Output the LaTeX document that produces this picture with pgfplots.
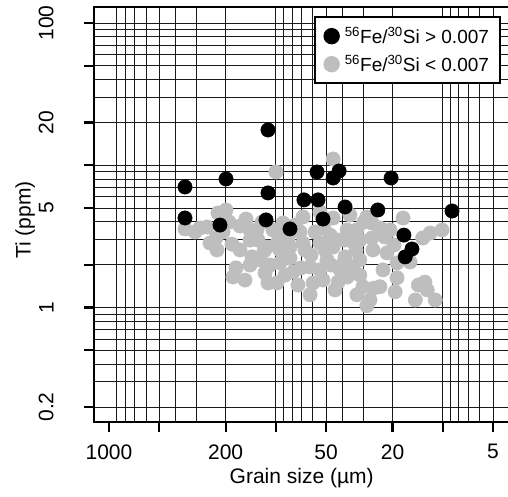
\documentclass[border=0pt]{standalone}
\usepackage{fontspec}
\setmainfont{Liberation Sans}
\usepackage{pgfplots}
\usepackage{pgfplotstable}
\pgfplotsset{compat=1.18}
\definecolor{ptgray}{HTML}{BEBEBE}
\pgfplotstableread{
x y
350.5 3.57
258.7 3.68
248.3 2.84
228.5 3.08
222.3 4.62
199.0 4.85
191.0 3.99
183.3 2.79
164.1 3.74
151.1 4.19
142.9 2.98
225.4 2.54
173.4 1.90
180.7 1.64
142.9 1.99
129.8 3.51
139.0 2.27
124.5 2.16
113.0 2.66
111.5 1.49
99.9 8.97
45.4 11.07
98.5 2.84
82.3 2.66
68.8 2.84
54.4 2.84
45.4 2.66
38.5 2.27
34.5 2.89
32.7 3.51
28.5 4.33
49.4 2.16
41.2 1.84
62.4 1.93
78.9 1.78
94.5 2.06
98.5 1.49
52.2 1.56
37.4 1.64
30.1 1.40
32.7 1.23
27.3 1.13
68.8 4.33
45.4 4.26
37.4 3.51
90.7 3.93
76.8 3.80
51.5 3.62
29.7 3.99
104.1 3.51
71.7 3.40
58.3 3.40
47.3 3.23
38.5 2.98
82.3 2.23
61.6 2.34
46.7 1.99
39.0 2.09
28.5 1.03
25.9 1.37
70.7 1.90
117.8 2.50
17.3 4.26
11.9 3.34
10.1 3.51
13.2 3.08
22.2 3.13
26.6 3.93
26.2 2.54
21.6 2.42
14.0 1.44
22.8 1.84
18.8 1.62
23.8 1.40
14.6 1.13
11.1 1.13
18.8 2.06
12.4 1.33
19.6 2.75
164.1 2.54
128.0 2.98
88.2 3.23
54.4 4.69
36.0 4.47
23.8 3.62
31.4 2.16
33.1 2.54
19.3 1.29
108.5 1.99
59.9 1.49
42.4 1.51
121.1 3.99
84.6 2.98
66.9 2.54
50.8 2.54
42.4 2.98
31.4 2.98
26.6 3.08
35.0 1.90
54.4 1.84
73.7 1.44
88.2 1.69
116.2 1.75
153.2 1.56
207.4 3.40
284.9 3.62
20.7 3.51
15.7 2.09
12.8 1.51
31.4 1.69
44.2 1.33
62.4 1.23
94.5 2.54
142.9 3.51
305.3 3.40
}\graytable
\pgfplotstableread{
x y
350.5 7.04
350.5 4.26
216.2 3.80
199.0 8.01
111.5 17.7
111.5 6.39
114.6 4.13
82.3 3.57
67.9 5.71
56.7 8.97
55.9 5.71
52.2 4.19
45.4 8.14
41.8 9.12
38.5 5.09
24.5 4.85
20.4 8.14
8.80 4.77
17.1 3.23
15.3 2.58
16.8 2.27
}\blacktable
\begin{document}
\begin{tikzpicture}[x=1pt,y=1pt]
\begin{axis}[
  at={(94pt,74pt)}, anchor=south west,
  scale only axis, width=417pt, height=415pt,
  xmode=log, ymode=log, x dir=reverse,
  xmin=3.902, xmax=1230, ymin=0.1569, ymax=129.5,
  axis line style={line width=2.5pt, black},
  xtick={5,10,20,50,100,200,500,1000},
  xticklabels={5,,20,50,,200,,1000},
  ytick={0.2,0.5,1,2,5,10,20,50,100},
  yticklabels={0.2,,1,,5,,20,,100},
  minor xtick={2,3,4,5,6,7,8,9,10,20,30,40,50,60,70,80,90,100,200,300,400,500,600,700,800,900},
  minor ytick={0.2,0.3,0.4,0.5,0.6,0.7,0.8,0.9,1,2,3,4,5,6,7,8,9,10,20,30,40,50,60,70,80,90,100},
  xminorgrids=true, yminorgrids=true, xmajorgrids=false, ymajorgrids=false,
  minor grid style={black!90, line width=0.9pt},
  tick align=outside, xtick pos=left, ytick pos=left,
  major tick length=10pt, minor tick length=0pt,
  major tick style={line width=2.2pt, black},
  tick label style={font=\fontsize{21}{25}\selectfont},
  xticklabel style={yshift=-9pt},
  yticklabel style={xshift=-27pt, rotate=90, anchor=south},
  xlabel={Grain size (µm)}, ylabel={Ti (ppm)},
  label style={font=\fontsize{21}{25}\selectfont},
  xlabel style={at={(axis description cs:0.498,-0.136)}, anchor=center},
  ylabel style={at={(axis description cs:-0.165,0.487)}, anchor=center},
  legend style={at={(0.976,0.978)}, anchor=north east, draw=black, line width=2pt,
    font=\fontsize{19}{22}\selectfont, fill=white,
    inner xsep=9pt, inner ysep=8.5pt, row sep=7pt,
    nodes={inner sep=2pt},
    /tikz/every odd column/.append style={column sep=4pt}},
  legend cell align=left,
  reverse legend,
  legend image code/.code={\draw[mark repeat=2,mark phase=2,#1] plot coordinates {(0pt,0pt) (7pt,0pt) (14pt,0pt)};},
]
\addplot[only marks, mark=*, mark size=7.2pt, color=ptgray, mark options={draw=none, fill=ptgray}] table {\graytable};
\addlegendentry{\textsuperscript{56}Fe/\textsuperscript{30}Si < 0.007}
\addplot[only marks, mark=*, mark size=7.2pt, color=black, mark options={draw=none, fill=black}] table {\blacktable};
\addlegendentry{\textsuperscript{56}Fe/\textsuperscript{30}Si > 0.007}
\end{axis}
\pgfresetboundingbox
\useasboundingbox (0,0) rectangle (508,496);
\end{tikzpicture}
\end{document}
